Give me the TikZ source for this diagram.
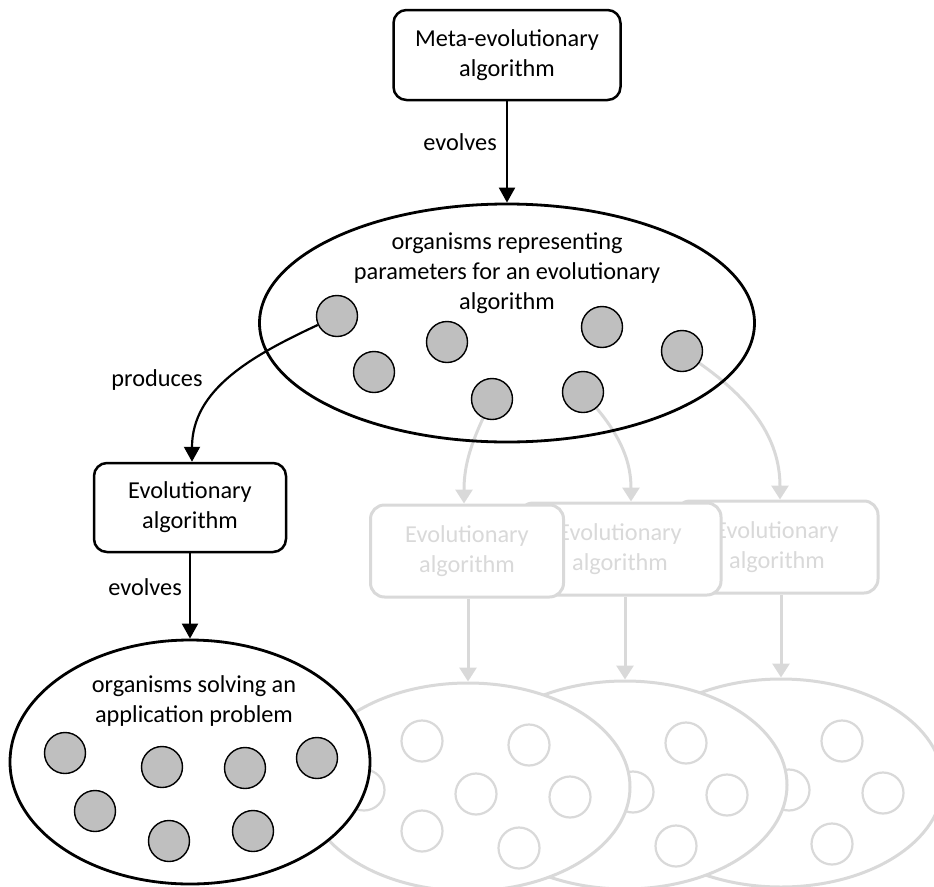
\documentclass[tikz,border=0pt]{standalone}
\usepackage{fontspec}
\setmainfont{Carlito}
\usetikzlibrary{arrows.meta,shapes.geometric}
\definecolor{faded}{RGB}{217,217,217}
\definecolor{cellgray}{RGB}{191,191,191}

\begin{document}
\begin{tikzpicture}[x=1pt,y=-1pt,
  every node/.style={font=\fontsize{24.3}{30}\selectfont},
  box/.style={draw, line width=2.5pt, rounded corners=13pt, fill=white,
    minimum width=#1, align=center, inner sep=0pt},
  ghostbox/.style={draw=faded, text=faded, line width=3pt, rounded corners=14pt,
    fill=white, minimum width=#1, minimum height=92pt, align=center, inner sep=0pt},
  pop/.style={draw, ellipse, line width=2.8pt, inner sep=0pt},
  ghostpop/.style={draw=faded, ellipse, line width=3pt, fill=white, inner sep=0pt,
    minimum width=324pt, minimum height=208pt},
  cell/.style={circle, draw, fill=cellgray, line width=1.4pt, minimum size=41pt, inner sep=0pt},
  ghostcell/.style={circle, draw=faded, line width=2.2pt, minimum size=41pt, inner sep=0pt},
  arr/.style={line width=2.2pt, -{Triangle[width=16pt,length=15pt]}},
  fadearr/.style={draw=faded, line width=3pt, -{Triangle[width=17pt,length=14pt]}},
  lbl/.style={inner sep=0pt}
]
\useasboundingbox (0,0) rectangle (934,886);

% --- faded copies of the lower populations (back to front) ---
\foreach \i/\x/\y in {3/781/783, 2/625/785, 1/468/787}{
  \node[ghostpop] (fe\i) at (\x,\y) {};
  \begin{scope}[shift={(\x,\y)}]
    \foreach \j/\dx/\dy in {a/-46/-46, b/61/-42, c/8/7, d/102/10, e/-46/44, f/51/61, g/-104/3}
      \node[ghostcell] (fe\i\j) at (\dx,\dy) {};
  \end{scope}
}

% --- population solving the application problem ---
\node[pop, fill=white, minimum width=360pt, minimum height=244pt] (sol) at (190,762) {};
\node[lbl, align=center] (soltext) at (194,701) {organisms solving an\\application problem};
\foreach \k/\cx/\cy in {1/65/753, 2/162/767, 3/245/768, 4/317/758, 5/95/811, 6/169/841, 7/253/831}
  \node[cell] (s\k) at (\cx,\cy) {};

% --- faded copies of the evolutionary algorithm ---
\node[ghostbox=202pt] (fb3) at (777,547) {Evolutionary\\algorithm};
\node[ghostbox=202pt] (fb2) at (620,549) {Evolutionary\\algorithm};
\node[ghostbox=193pt] (fb1) at (467,551) {Evolutionary\\algorithm};

\draw[fadearr] (fb1.south -| fe1.north) -- (fe1.north);
\draw[fadearr] (fb2.south -| fe2.north) -- (fe2.north);
\draw[fadearr] (fb3.south -| fe3.north) -- (fe3.north);

% --- population of parameter sets ---
\foreach \k/\cx/\cy in {1/337/316, 2/374/372, 3/447/342, 4/492/399, 5/602/327, 6/583/392, 7/682/351}
  \coordinate (pc\k) at (\cx,\cy);

\draw[fadearr] ([shift={(-115:21pt)}]pc4) to[out=-115,in=90] ([xshift=-3pt]fb1.north);
\draw[fadearr] ([shift={(-50:21pt)}]pc6) to[out=-50,in=90] ([xshift=11pt]fb2.north);
\draw[fadearr] ([shift={(-35:21pt)}]pc7) to[out=-35,in=90] ([xshift=3pt]fb3.north);

\node[pop, minimum width=495pt, minimum height=238pt] (params) at (507,323) {};
\node[lbl, align=center] (paramstext) at (507,273)
  {organisms representing\\parameters for an evolutionary\\algorithm};
\foreach \k in {1,...,7}
  \node[cell] (p\k) at (pc\k) {};

% --- meta level and the produced algorithm ---
\node[box=227pt, minimum height=90pt] (meta) at (507,55) {Meta-evolutionary\\algorithm};
\node[box=192pt, minimum height=89pt] (ea) at (190,507.5) {Evolutionary\\algorithm};

\draw[arr] (meta) -- (params);
\draw[arr] (p1.205) to[out=205,in=90] ([xshift=2pt]ea.north);
\draw[arr] (ea) -- (sol);

\node[lbl] (evolvesA) at (460,142) {evolves};
\node[lbl] (produces) at (157,380) {produces};
\node[lbl] (evolvesB) at (145,587) {evolves};
\end{tikzpicture}
\end{document}
